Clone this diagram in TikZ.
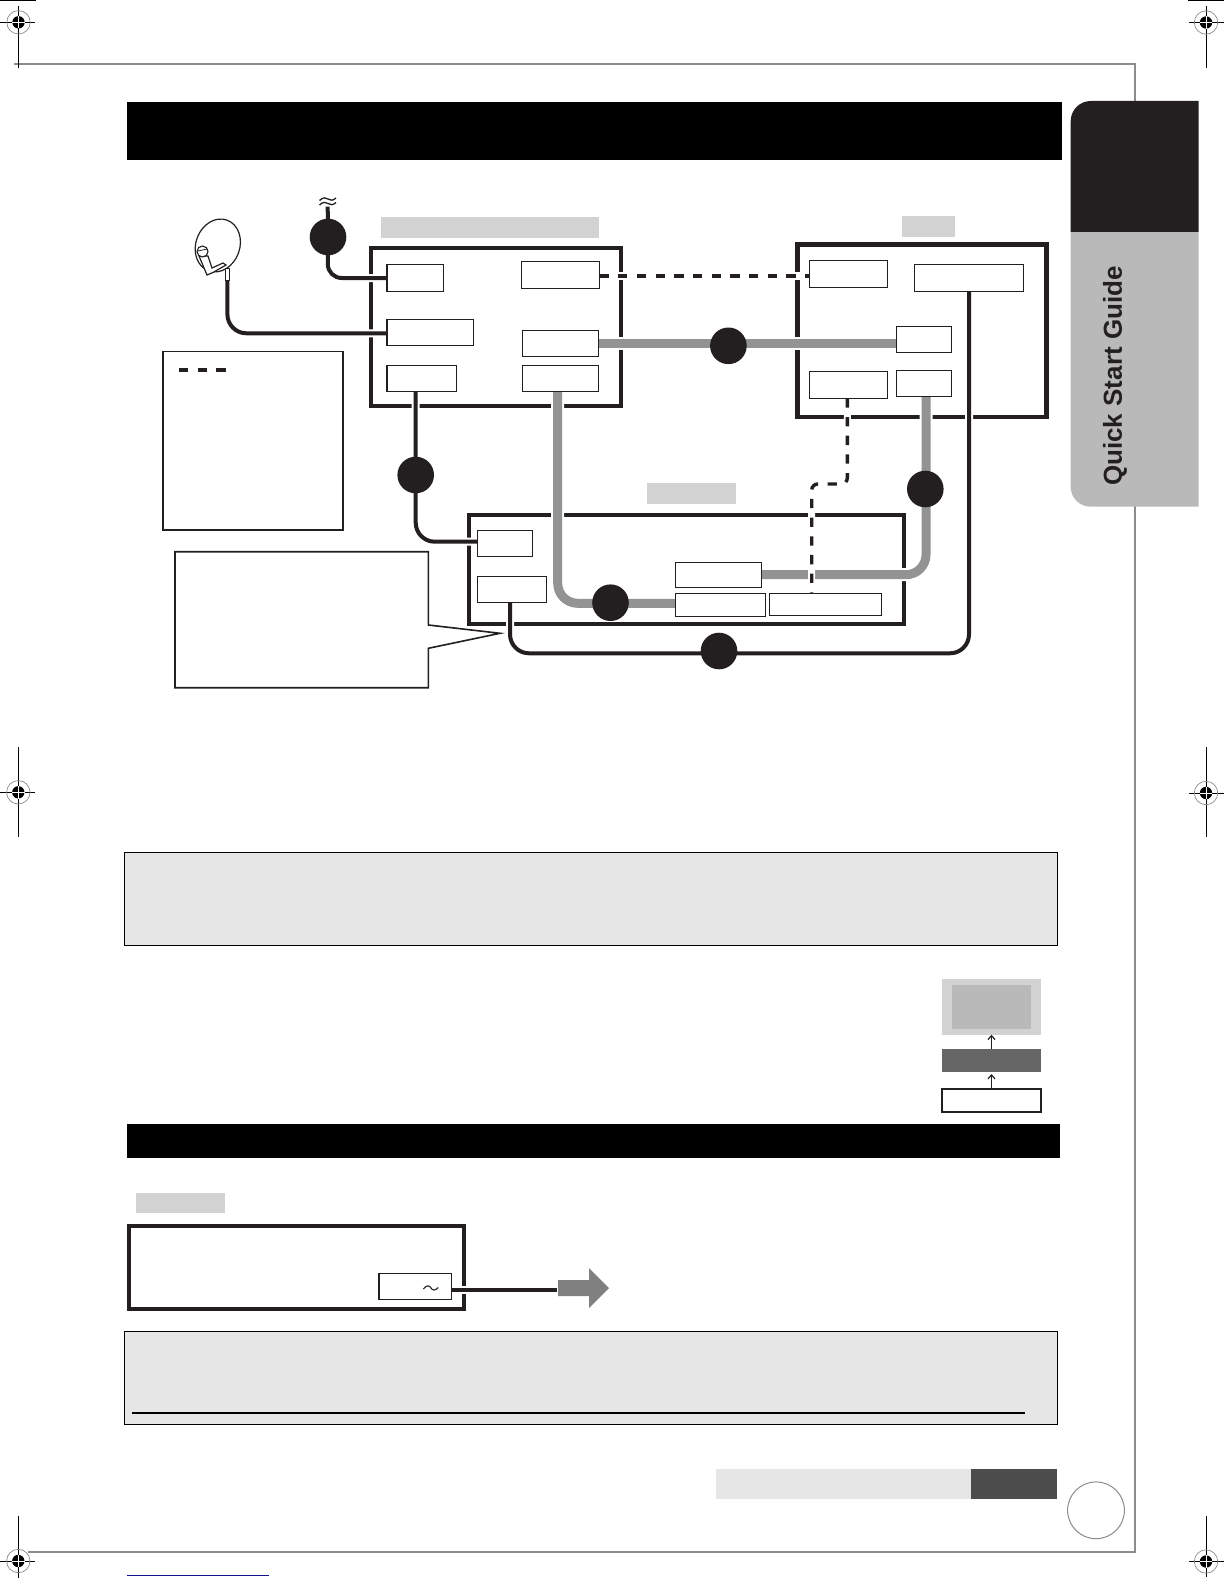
\documentclass[tikz,border=0pt]{standalone}
\usepackage{fontspec}
\setmainfont{Liberation Sans}
\usetikzlibrary{shapes.geometric,arrows.meta}
\definecolor{ink}{HTML}{231F20}
\definecolor{cablegray}{HTML}{939393}
\definecolor{framegray}{HTML}{8C8C8C}
\definecolor{labelgray}{HTML}{D2D2D2}
\definecolor{panelgray}{HTML}{E6E6E6}
\definecolor{tablight}{HTML}{B9B9B9}
\definecolor{linkblue}{HTML}{10108C}
\pgfdeclarelayer{front}
\pgfsetlayers{main,front}
\tikzset{
  x=1pt,y=-1pt,
  base/.style={inner sep=0pt,outer sep=0pt,rectangle},
  unitbox/.style={base,draw=ink,line width=4.4pt},
  subbox/.style={base,draw=ink,line width=1.2pt,fill=white},
  tag/.style={base,fill=labelgray},
  panel/.style={base,draw=black,line width=1.3pt,fill=panelgray},
  bar/.style={base,fill=black},
  hub/.style={circle,fill=ink,inner sep=0pt,outer sep=0pt,minimum size=36.6pt},
  blackcable/.style={draw=ink,line width=4pt},
  graycable/.style={draw=cablegray,line width=9pt},
  haloblack/.style={draw=white,line width=8pt},
  halogray/.style={draw=white,line width=13pt},
  dashcable/.style={draw=ink,line width=3.4pt,dash pattern=on 9.3pt off 9.4pt},
  regline/.style={draw=black,line width=1pt},
  flowarrow/.style={draw=ink,line width=1.2pt,-{Straight Barb[length=4pt,width=7pt]}},
}
\newcommand\boxat[6][]{\node[#1,minimum width={(#5-#3)*1pt},minimum height={(#6-#4)*1pt}] (#2) at ({(#3+#5)/2},{(#4+#6)/2}) {};}
\newcommand\regmark[6]{%
  \draw[regline] (#3,#2)--(#4,#2) (#1,#5)--(#1,#6);
  \draw[draw=framegray,line width=.7pt] (#1,#2) circle[radius=11.7];
  \fill[black] (#1,#2) circle[radius=6.2];
  \draw[white,line width=.8pt] (#1-6.2,#2)--(#1+6.2,#2) (#1,#2-6.2)--(#1,#2+6.2);
}
\begin{document}
\begin{tikzpicture}
\useasboundingbox (0,0) rectangle (1224,1584);
\fill[white] (0,0) rectangle (1224,1584);

% page frame
\draw[framegray,line width=2pt] (14,63.7)--(1135,63.7)--(1135,1551.7)--(28,1551.7);

% registration marks
\fill[black] (0,0) rectangle (36,1);
\fill[black] (1188,0) rectangle (1224,1);
\regmark{18.5}{22.3}{0}{35}{6}{68}
\regmark{1206}{22.5}{1189}{1224}{6}{68}
\regmark{18.3}{792.3}{0}{35}{747}{837}
\regmark{1206}{793}{1189}{1224}{747}{837}
\regmark{18.3}{1561}{0}{35}{1516}{1578}
\regmark{1206}{1561.5}{1189}{1224}{1516}{1577}
\draw[draw=linkblue,line width=1.2pt] (127,1575.3)--(268.7,1575.3);

% bars and side tab
\boxat[bar]{titlebar}{127}{102}{1062}{160}
\boxat[bar]{secondbar}{127}{1124}{1060}{1158}
\fill[ink] (1198.6,232)--(1070.7,232)--(1070.7,121) .. controls (1070.7,110) and (1079.7,101) .. (1090.7,101)--(1198.6,101)--cycle;
\fill[tablight] (1198.6,232)--(1070.7,232)--(1070.7,487) .. controls (1070.7,498) and (1079.7,506.7) .. (1090.7,506.7)--(1198.6,506.7)--cycle;
\node[rotate=90,text=ink,inner sep=0pt] (tabtext) at (1115,376) {\fontsize{26}{30}\selectfont\bfseries Quick Start Guide};

% grey labels
\boxat[tag]{tagA}{381}{217}{599}{237.7}
\boxat[tag]{tagB}{902}{216}{955}{237}
\boxat[tag]{tagC}{647}{483}{736}{504}
\boxat[tag]{tagD}{136}{1193}{225}{1213}

% unit frames
\boxat[unitbox]{unitA}{371.2}{248}{621}{406}
\boxat[unitbox]{unitB}{797.3}{244.3}{1046.5}{416.7}
\boxat[unitbox]{unitC}{469}{515}{904}{624}
\boxat[unitbox]{unitD}{129}{1225.7}{464}{1309}

\begin{pgfonlayer}{front}
\boxat[subbox]{a1}{387}{264.3}{443.7}{291.7}
\boxat[subbox]{a2}{521.5}{261.7}{599.4}{288.7}
\boxat[subbox]{a3}{387}{319.3}{473.7}{345.7}
\boxat[subbox]{a4}{522.3}{330.3}{598.6}{356.7}
\boxat[subbox]{a5}{387}{365.3}{456.7}{391.7}
\boxat[subbox]{a6}{522.3}{365.3}{598.6}{391.7}
\boxat[subbox]{b1}{809.1}{260.3}{887.7}{287.3}
\boxat[subbox]{b2}{914.3}{264.3}{1023.7}{291.7}
\boxat[subbox]{b3}{896.6}{326.3}{951.7}{352.3}
\boxat[subbox]{b4}{809.1}{371.3}{887.7}{398.3}
\boxat[subbox]{b5}{896.6}{370.3}{951.7}{396.7}
\boxat[subbox]{c1}{477.3}{530.3}{532.7}{556.3}
\boxat[subbox]{c2}{477.3}{576.3}{546.7}{602.3}
\boxat[subbox]{c3}{675.3}{562.3}{761.7}{587.7}
\boxat[subbox]{c4}{675.3}{593.3}{765.7}{616.7}
\boxat[subbox]{c5}{769.3}{593.3}{881.7}{615.7}
\boxat[subbox]{d1}{379}{1273.3}{451.7}{1299.7}
% mains wave inside the plug box
\draw[ink,line width=1.1pt] (423.3,1289) .. controls (427,1284.5) and (429.5,1285.5) .. (431,1288) .. controls (432.5,1290.5) and (435,1291) .. (438.3,1287.5);
\node[hub] (n1) at (328,237) {};
\node[hub] (n2) at (728.4,345.8) {};
\node[hub] (n3) at (925.3,489) {};
\node[hub] (n4) at (415.7,475) {};
\node[hub] (n5) at (610.5,602.7) {};
\node[hub] (n6) at (719,651) {};
\end{pgfonlayer}
\coordinate (antennatop) at (327.7,206.7);
\coordinate (dishfoot) at (227.4,280);
\coordinate (legendL) at (179,370);
\coordinate (legendR) at (227,370);

% plain black cables
\foreach \st in {haloblack,blackcable}{
  \draw[\st,rounded corners=14pt] (antennatop) -- (n1.center) -- (327.7,278) -- (a1.west |- 0,278);
  \draw[\st,rounded corners=19pt] (dishfoot) -- (227.4,333.3) -- (a3.west |- 0,333.3);
  \draw[\st,rounded corners=19pt] (n4 |- a5.south) -- (415.7,541.7) -- (c1.west |- 0,541.7);
  \draw[\st,rounded corners=19pt] (969,291.7) -- (969,653.3) -- (510,653.3) -- (510,602.3);
  \draw[\st] (d1.east |- 0,1290) -- (557,1290);
}
% grey cables
\foreach \st in {halogray,graycable}{
  \draw[\st] (a4.east |- n2) ++(0,-2.5) -- (b3.west |- 0,343.3);
  \draw[\st,rounded corners=20pt] (557.7,391.7) -- (557.7,603.3) -- (c4.west |- 0,603.3);
  \draw[\st,rounded corners=20pt] (c3.east |- 0,574.7) -- (926,574.7) -- (926,396.7);
}
% dashed cables
\draw[haloblack,line width=8pt] (a2.east |- 0,276) -- (b1.west |- 0,276);
\draw[dashcable] (a2.east |- 0,276) -- (b1.west |- 0,276);
\draw[haloblack,line width=7pt,rounded corners=6pt] (847.3,398.3) -- (847.3,484) -- (811.7,484) -- (811.7,593.3);
\draw[dashcable,rounded corners=6pt] (847.3,398.3) -- (847.3,484) -- (811.7,484) -- (811.7,593.3);

% aerial stub waves
\draw[ink,line width=1.3pt] (319.5,200.5) .. controls (323,197) and (326,197.5) .. (328,199) .. controls (330,200.5) and (333,201) .. (336,198);
\draw[ink,line width=1.3pt] (319.5,205) .. controls (323,201.5) and (326,202) .. (328,203.5) .. controls (330,205) and (333,205.5) .. (336,202.5);

% satellite dish
\node[ellipse,draw=ink,line width=1.2pt,fill=white,inner sep=0pt,minimum width=44pt,minimum height=54pt,rotate=-20] (dish) at (217.8,245.5) {};
\draw[ink,line width=1pt,fill=white] (225.7,268)--(225.7,280)--(229.1,280)--(229.1,268)--cycle;
\draw[ink,line width=1.2pt,fill=white] (199,256) -- (207,275) -- (213,272.5) -- (226,265) -- (223,263) -- (212,268) -- (208,256) -- cycle;
\draw[ink,line width=1.1pt,fill=white] (202.5,251.5) ellipse[x radius=5.5,y radius=5.5];
\draw[ink,line width=.8pt] (198,251) -- (207,249);

% legend box
\boxat[base,draw=ink,line width=1.6pt,fill=white]{legend}{162.7}{351.3}{342.7}{530}
\draw[dashcable] (legendL) -- (legendR);

% callout
\draw[draw=ink,line width=1.6pt,fill=white] (175,551.7) -- (428.3,551.7) -- (428.3,625) -- (500,633.3) -- (428.3,648.3) -- (428.3,687.7) -- (175,687.7) -- cycle;

% grey panels
\boxat[panel]{panelA}{124.7}{852.5}{1057.3}{945.3}
\boxat[panel]{panelB}{124.7}{1331.3}{1057.3}{1424.3}
\draw[black,line width=2pt] (132,1413) -- (1025,1413);

% stacked diagram
\boxat[base,fill=labelgray]{stackTop}{942}{979}{1041}{1034.7}
\boxat[base,fill=tablight]{stackScreen}{952}{985}{1031.3}{1029}
\boxat[base,fill=black!60]{stackMid}{942}{1049}{1041}{1072}
\boxat[base,draw=ink,line width=2.3pt,fill=white]{stackBottom}{941.7}{1088.7}{1041.3}{1112.3}
\draw[flowarrow] (stackMid.north) -- (stackTop.south);
\draw[flowarrow,shorten >=2pt] (stackBottom.north) -- (stackMid.south);

% mains arrow
\fill[black!50] (558,1280) -- (589,1280) -- (589,1268) -- (609,1288) -- (589,1308) -- (589,1296) -- (558,1296) -- cycle;

% page footer
\boxat[base,fill=panelgray]{footA}{716}{1469}{970.8}{1499}
\boxat[base,fill=black!70]{footB}{970.8}{1469}{1057.2}{1499}
\node[circle,draw=framegray,line width=1pt,fill=white,inner sep=0pt,minimum size=56.8pt] (pagecircle) at (1096,1510.3) {};
\end{tikzpicture}
\end{document}
